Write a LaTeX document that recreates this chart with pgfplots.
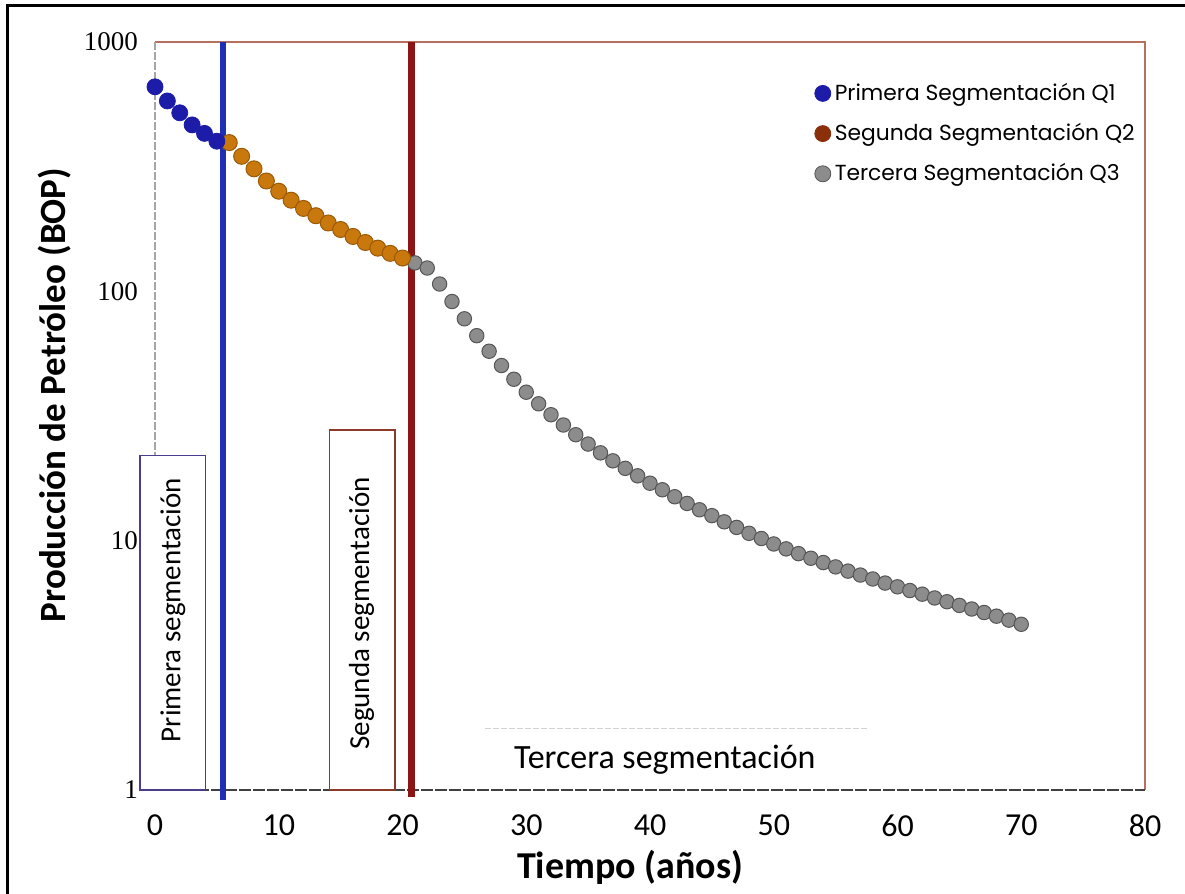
\documentclass[border=0pt]{standalone}
\usepackage{pgfplots}
\pgfplotsset{compat=1.18}
\usepackage{fontspec}
\setmainfont{Carlito}
\newfontfamily\pop{Poppins}
\newfontfamily\lserif{Liberation Serif}
\definecolor{qone}{HTML}{1C1CA8}
\definecolor{qtwo}{HTML}{C8780C}
\definecolor{qtwoedge}{HTML}{9A5A08}
\definecolor{qtwoleg}{HTML}{8B2E0A}
\definecolor{qthree}{HTML}{8C8C8C}
\definecolor{qthreeedge}{HTML}{555555}
\definecolor{vblue}{HTML}{1F2FB5}
\definecolor{vred}{HTML}{8B1414}
\definecolor{framered}{HTML}{B8705E}
\definecolor{boxblue}{HTML}{4B3C8F}
\definecolor{boxred}{HTML}{8B3A2A}
\begin{document}
\begin{tikzpicture}
\useasboundingbox (-77.5pt,-52pt) rectangle (515pt,395pt);
\fill[white] (-77.5pt,-52pt) rectangle (515pt,395pt);
\draw[black, line width=1.5pt] (-73.5pt,-52pt) -- (-73.5pt,392pt) -- (515pt,392pt);
\begin{axis}[
  at={(0,0)}, anchor=south west,
  scale only axis, width=495pt, height=374pt,
  xmin=0, xmax=80, ymode=log, ymin=1, ymax=1000,
  clip=false,
  axis line style={draw=none},
  major tick length=0pt, minor tick length=0pt,
  xtick={0,10,20,30,40,50,60,70,80},
  xticklabels={0,10,20,30,40,50,60,70,80},
  ytick={1,10,100,1000},
  yticklabels={1,10,100,1000},
  xticklabel style={font=\fontsize{16pt}{18pt}\selectfont, yshift=-9pt},
  yticklabel style={font=\lserif\fontsize{13.5pt}{15pt}\selectfont, xshift=-5pt},
  xlabel={\textbf{Tiempo (años)}},
  ylabel={\textbf{Producción de Petróleo (BOP)}},
  xlabel style={font=\fontsize{19pt}{22pt}\selectfont, at={(axis description cs:0.48,-0.103)}, anchor=center},
  ylabel style={font=\fontsize{18.5pt}{22pt}\selectfont, at={(axis description cs:-0.101,0.528)}, anchor=center},
  legend style={at={(rel axis cs:0.66,0.956)}, anchor=north west, draw=none, fill=none,
    font=\pop\fontsize{10.9pt}{12pt}\selectfont, row sep=6pt},
  legend cell align=left,
]
% frame
\draw[framered, line width=0.8pt] (rel axis cs:0,1) -- (rel axis cs:1,1) -- (rel axis cs:1,0);
\draw[gray!70, line width=0.6pt, dash pattern=on 4pt off 1pt] (rel axis cs:0,0) -- (rel axis cs:0,1);
\draw[black!75, line width=0.8pt, dash pattern=on 6pt off 1pt] (rel axis cs:0,0) -- (rel axis cs:1,0);

\addlegendimage{only marks, mark=*, mark size=4pt, mark options={fill=qone, draw=qone}}
\addlegendentry{Primera Segmentación Q1}
\addlegendimage{only marks, mark=*, mark size=4pt, mark options={fill=qtwoleg, draw=qtwoleg}}
\addlegendentry{Segunda Segmentación Q2}
\addlegendimage{only marks, mark=*, mark size=4pt, mark options={fill=qthree, draw=qthreeedge}}
\addlegendentry{Tercera Segmentación Q3}

% text boxes
\draw[boxblue, line width=0.7pt, fill=white] (axis cs:-1.2,1) rectangle (axis cs:4.1,22);
\node[rotate=90, font=\fontsize{14.5pt}{16pt}\selectfont] at (axis cs:1.45,5.27) {Primera segmentación};
\draw[boxred, line width=0.7pt, fill=white] (axis cs:14.1,1) rectangle (axis cs:19.4,27.8);
\node[rotate=90, font=\fontsize{14.5pt}{16pt}\selectfont] at (axis cs:16.7,5.1) {Segunda segmentación};
\draw[gray!35, line width=0.6pt, dash pattern=on 3pt off 1pt] (axis cs:26.7,1.77) -- (axis cs:57.6,1.77);
\node[font=\fontsize{17pt}{19pt}\selectfont] at (axis cs:41.2,1.32) {Tercera segmentación};

% Q3
\addplot[forget plot, only marks, mark=*, mark size=3.6pt, mark options={fill=qthree, draw=qthreeedge, line width=0.5pt}] table {
x y
21 130
22 124
23 107
24 91
25 77.6
26 66.4
27 57.5
28 50.4
29 44.4
30 39.4
31 35.4
32 32.0
33 29.1
34 26.6
35 24.4
36 22.5
37 20.9
38 19.5
39 18.2
40 17.0
41 16.0
42 15.0
43 14.1
44 13.3
45 12.6
46 11.9
47 11.3
48 10.7
49 10.2
50 9.7
51 9.27
52 8.87
53 8.5
54 8.17
55 7.85
56 7.55
57 7.28
58 7.02
59 6.76
60 6.53
61 6.31
62 6.1
63 5.89
64 5.69
65 5.5
66 5.32
67 5.15
68 4.98
69 4.8
70 4.62
};
% Q2
\addplot[forget plot, only marks, mark=*, mark size=4pt, mark options={fill=qtwo, draw=qtwoedge, line width=0.5pt}] table {
x y
6 395
7 348
8 310
9 277
10 252
11 232
12 215
13 201
14 188
15 177
16 166
17 157
18 149
19 142
20 136
};
% Q1
\addplot[forget plot, only marks, mark=*, mark size=4pt, mark options={fill=qone, draw=qone}] table {
x y
0 661
1 580
2 520
3 465
4 430
5 400
};
% segmentation lines
\addplot[forget plot, vblue, line width=3pt] coordinates {(5.5,0.912) (5.5,1000)};
\addplot[forget plot, vred, line width=3.5pt] coordinates {(20.7,0.937) (20.7,1000)};
\end{axis}
\end{tikzpicture}
\end{document}
